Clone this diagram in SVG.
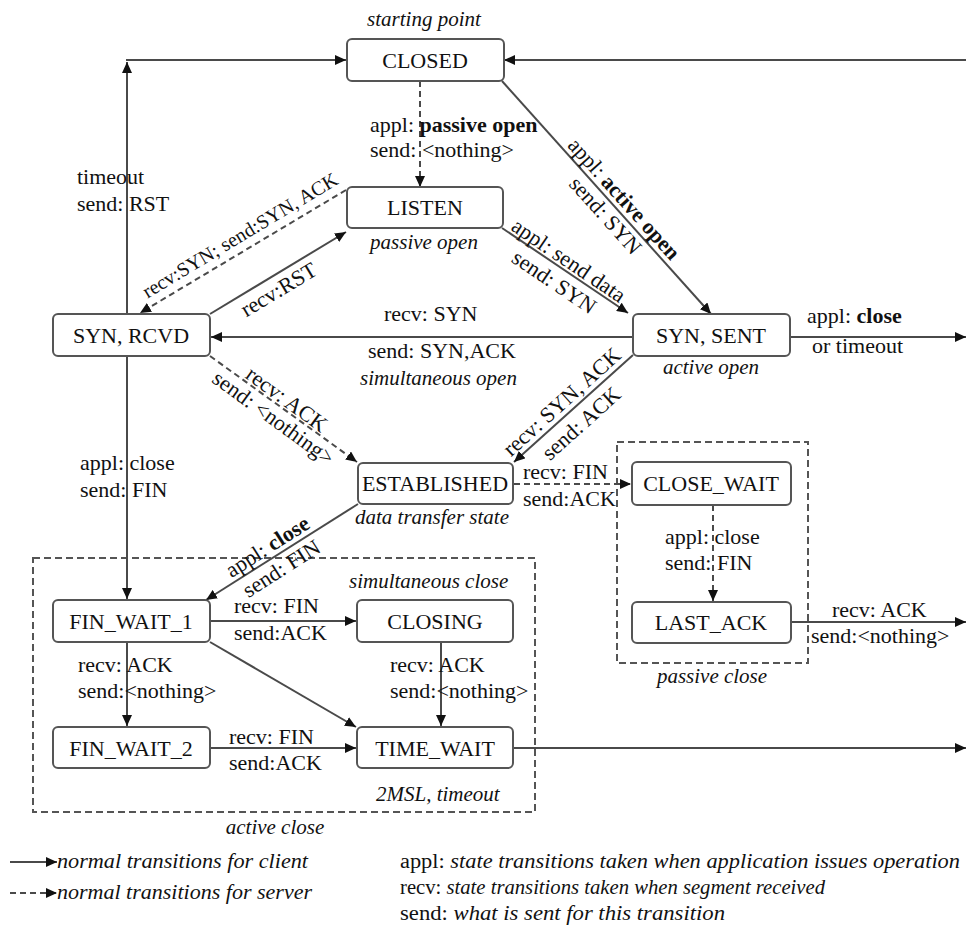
<svg xmlns="http://www.w3.org/2000/svg" width="966" height="932" viewBox="0 0 966 932">
  <style>
    text { font-family: "Liberation Serif", "Times New Roman", serif; fill: #111; }
    .t { font-size: 22px; }
    .s { font-size: 20px; }
    .i { font-size: 21px; font-style: italic; }
    .lg { font-size: 20px; font-style: italic; }
    .b { font-weight: bold; }
    .n { text-anchor: middle; font-size: 22px; }
    .box { fill: #fff; stroke: #555; stroke-width: 2; }
    .ln { fill: none; stroke: #4a4a4a; stroke-width: 2; marker-end: url(#ah); }
    .dl { fill: none; stroke: #4a4a4a; stroke-width: 2; stroke-dasharray: 6 4; marker-end: url(#ah); }
    .frame { fill: none; stroke: #555; stroke-width: 2; stroke-dasharray: 7 4; }
  </style>
  <defs>
    <marker id="ah" markerUnits="userSpaceOnUse" markerWidth="12" markerHeight="10" refX="11" refY="5" orient="auto">
      <path d="M0,0 L11,5 L0,10 z" fill="#111"/>
    </marker>
  </defs>

  <rect width="966" height="932" fill="#fff"/>

  <!-- grouping frames -->
  <g id="frames">
    <rect class="frame" x="617" y="442" width="191" height="221"/>
    <rect class="frame" x="33" y="558" width="502" height="254"/>
  </g>

  <!-- transitions -->
  <g id="connectors">
    <!-- timeout from SYN,RCVD back to CLOSED -->
    <path class="ln" d="M127,314 V62"/>
    <path class="ln" d="M126,60 H346"/>
    <!-- from the right edge into CLOSED -->
    <path class="ln" d="M966,60 H504"/>
    <!-- CLOSED -> LISTEN (passive open) -->
    <path class="dl" d="M420,81 V187"/>
    <!-- CLOSED -> SYN,SENT (active open) -->
    <path class="ln" d="M502,81 L711,314"/>
    <!-- LISTEN -> SYN,SENT (send data) -->
    <path class="ln" d="M502,228 L628,313"/>
    <!-- SYN,RCVD -> LISTEN (recv RST) -->
    <path class="ln" d="M210,314 L346,232"/>
    <!-- LISTEN -> SYN,RCVD (recv SYN) -->
    <path class="dl" d="M346,190 L140,313"/>
    <!-- SYN,SENT -> SYN,RCVD (simultaneous open) -->
    <path class="ln" d="M633,337 H211"/>
    <!-- SYN,SENT -> right edge -->
    <path class="ln" d="M790,337 H966"/>
    <!-- SYN,RCVD -> ESTABLISHED -->
    <path class="dl" d="M210,356 L357,462"/>
    <!-- SYN,SENT -> ESTABLISHED -->
    <path class="ln" d="M633,355 L514,462"/>
    <!-- ESTABLISHED -> CLOSE_WAIT -->
    <path class="dl" d="M514,484 H631"/>
    <!-- CLOSE_WAIT -> LAST_ACK -->
    <path class="dl" d="M713,505 V601"/>
    <!-- LAST_ACK -> right edge -->
    <path class="ln" d="M791,622 H966"/>
    <!-- SYN,RCVD -> FIN_WAIT_1 -->
    <path class="ln" d="M127,356 V599"/>
    <!-- ESTABLISHED -> FIN_WAIT_1 -->
    <path class="ln" d="M358,504 L206,600"/>
    <!-- FIN_WAIT_1 -> CLOSING -->
    <path class="ln" d="M210,621 H356"/>
    <!-- FIN_WAIT_1 -> FIN_WAIT_2 -->
    <path class="ln" d="M127,642 V726"/>
    <!-- FIN_WAIT_1 -> TIME_WAIT -->
    <path class="ln" d="M210,642 L356,727"/>
    <!-- CLOSING -> TIME_WAIT -->
    <path class="ln" d="M441,642 V726"/>
    <!-- FIN_WAIT_2 -> TIME_WAIT -->
    <path class="ln" d="M210,748 H356"/>
    <!-- TIME_WAIT -> right edge -->
    <path class="ln" d="M513,748 H966"/>
  </g>

  <!-- transition labels -->
  <g id="labels">
    <text class="i" x="424" y="26" text-anchor="middle">starting point</text>
    <text class="t" x="370" y="132">appl: <tspan class="b">passive open</tspan></text>
    <text class="t" x="370" y="157">send: &lt;nothing&gt;</text>
    <text class="t" x="77" y="184">timeout</text>
    <text class="t" x="77" y="211">send: RST</text>

    <g transform="translate(615,207) rotate(48)">
      <text class="t" x="0" y="-5" text-anchor="middle">appl: <tspan class="b">active open</tspan></text>
      <text class="t" x="0" y="20" text-anchor="middle">send: SYN</text>
    </g>
    <g transform="translate(563,269) rotate(34)">
      <text class="t" x="0" y="-3" text-anchor="middle">appl: send data</text>
      <text class="t" x="0" y="23" text-anchor="middle">send: SYN</text>
    </g>
    <g transform="translate(271,277) rotate(-31)">
      <text class="t" x="0" y="22" text-anchor="middle">recv:RST</text>
    </g>
    <g transform="translate(247,247) rotate(-31)">
      <text class="s" x="0" y="-7" text-anchor="middle">recv:SYN; send:SYN, ACK</text>
    </g>
    <g transform="translate(282,406) rotate(36)">
      <text class="t" x="0" y="-1" text-anchor="middle">recv: ACK</text>
      <text class="t" x="0" y="22" text-anchor="middle">send: &lt;nothing&gt;</text>
    </g>
    <g transform="translate(570,411) rotate(-42)">
      <text class="t" x="0" y="-5" text-anchor="middle">recv: SYN, ACK</text>
      <text class="t" x="0" y="24" text-anchor="middle">send: ACK</text>
    </g>
    <g transform="translate(274,557) rotate(-32.6)">
      <text class="t" x="0" y="-5" text-anchor="middle">appl: <tspan class="b">close</tspan></text>
      <text class="t" x="0" y="21" text-anchor="middle">send: FIN</text>
    </g>

    <text class="t" x="384" y="321">recv: SYN</text>
    <text class="t" x="368" y="358">send: SYN,ACK</text>
    <text class="i" x="360" y="385">simultaneous open</text>
    <text class="i" x="424" y="249" text-anchor="middle">passive open</text>
    <text class="i" x="711" y="374" text-anchor="middle">active open</text>
    <text class="t" x="807" y="323">appl: <tspan class="b">close</tspan></text>
    <text class="t" x="812" y="353">or timeout</text>

    <text class="t" x="80" y="470">appl: close</text>
    <text class="t" x="80" y="497">send: FIN</text>
    <text class="i" x="432" y="524" text-anchor="middle">data transfer state</text>
    <text class="t" x="523" y="479">recv: FIN</text>
    <text class="t" x="523" y="506">send:ACK</text>

    <text class="t" x="665" y="544">appl: close</text>
    <text class="t" x="665" y="570">send: FIN</text>
    <text class="t" x="832" y="617">recv: ACK</text>
    <text class="t" x="811" y="643">send:&lt;nothing&gt;</text>
    <text class="i" x="712" y="683" text-anchor="middle">passive close</text>

    <text class="i" x="349" y="588">simultaneous close</text>
    <text class="t" x="234" y="613">recv: FIN</text>
    <text class="t" x="234" y="640">send:ACK</text>
    <text class="t" x="78" y="672">recv: ACK</text>
    <text class="t" x="78" y="698">send:&lt;nothing&gt;</text>
    <text class="t" x="390" y="672">recv: ACK</text>
    <text class="t" x="390" y="698">send:&lt;nothing&gt;</text>
    <text class="t" x="229" y="744">recv: FIN</text>
    <text class="t" x="229" y="770">send:ACK</text>
    <text class="i" x="376" y="801">2MSL, timeout</text>
    <text class="i" x="275" y="834" text-anchor="middle">active close</text>
  </g>

  <!-- states -->
  <g id="CLOSED">
    <rect class="box" x="347" y="39" width="157" height="42" rx="5"/>
    <text class="n" x="425" y="68">CLOSED</text>
  </g>
  <g id="LISTEN">
    <rect class="box" x="347" y="187" width="156" height="41" rx="5"/>
    <text class="n" x="425" y="215">LISTEN</text>
  </g>
  <g id="SYN_RCVD">
    <rect class="box" x="53" y="314" width="157" height="42" rx="5"/>
    <text class="n" x="131" y="343">SYN, RCVD</text>
  </g>
  <g id="SYN_SENT">
    <rect class="box" x="633" y="314" width="157" height="42" rx="5"/>
    <text class="n" x="711" y="343">SYN, SENT</text>
  </g>
  <g id="ESTABLISHED">
    <rect class="box" x="358" y="463" width="155" height="41" rx="5"/>
    <text class="n" x="435" y="491">ESTABLISHED</text>
  </g>
  <g id="CLOSE_WAIT">
    <rect class="box" x="632" y="462" width="159" height="43" rx="5"/>
    <text class="n" x="711" y="491">CLOSE_WAIT</text>
  </g>
  <g id="LAST_ACK">
    <rect class="box" x="632" y="602" width="159" height="41" rx="5"/>
    <text class="n" x="711" y="630">LAST_ACK</text>
  </g>
  <g id="FIN_WAIT_1">
    <rect class="box" x="53" y="600" width="157" height="42" rx="5"/>
    <text class="n" x="131" y="629">FIN_WAIT_1</text>
  </g>
  <g id="CLOSING">
    <rect class="box" x="357" y="600" width="156" height="42" rx="5"/>
    <text class="n" x="435" y="629">CLOSING</text>
  </g>
  <g id="FIN_WAIT_2">
    <rect class="box" x="53" y="727" width="157" height="41" rx="5"/>
    <text class="n" x="131" y="756">FIN_WAIT_2</text>
  </g>
  <g id="TIME_WAIT">
    <rect class="box" x="357" y="727" width="156" height="41" rx="5"/>
    <text class="n" x="435" y="756">TIME_WAIT</text>
  </g>

  <!-- legend -->
  <g id="legend">
    <path class="ln" d="M10,862 H57"/>
    <path class="dl" d="M10,893 H57"/>
    <text class="lg" x="57" y="868" textLength="251" lengthAdjust="spacingAndGlyphs">normal transitions for client</text>
    <text class="lg" x="57" y="899" textLength="255" lengthAdjust="spacingAndGlyphs">normal transitions for server</text>
    <text class="lg" x="400" y="868" textLength="560" lengthAdjust="spacingAndGlyphs"><tspan font-style="normal">appl:</tspan> state transitions taken when application issues operation</text>
    <text class="lg" x="400" y="894" textLength="425" lengthAdjust="spacingAndGlyphs"><tspan font-style="normal">recv:</tspan> state transitions taken when segment received</text>
    <text class="lg" x="400" y="920" textLength="325" lengthAdjust="spacingAndGlyphs"><tspan font-style="normal">send:</tspan> what is sent for this transition</text>
  </g>
</svg>
